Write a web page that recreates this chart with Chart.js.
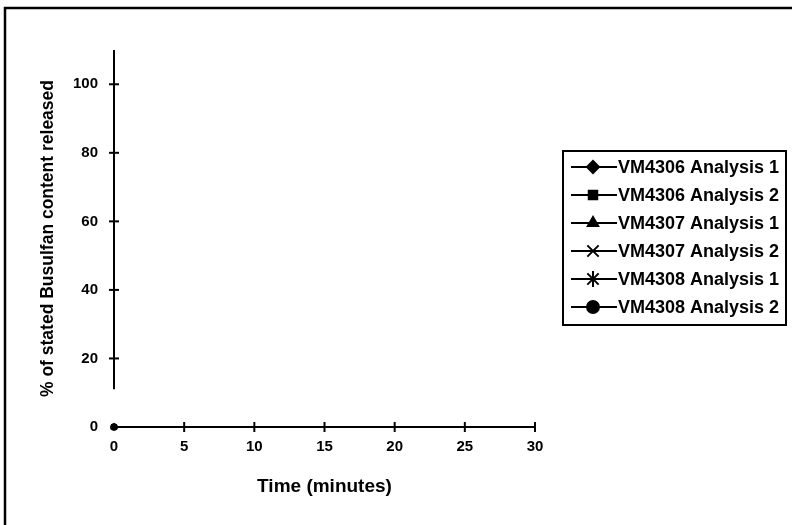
<!DOCTYPE html>
<html>
<head>
<meta charset="utf-8">
<script src="https://cdn.jsdelivr.net/npm/chart.js@4/dist/chart.umd.min.js"></script>
<style>
  html, body { margin: 0; padding: 0; background: #fff; }
  #wrap { width: 792px; height: 525px; }
</style>
</head>
<body>
<div id="wrap"><canvas id="c" width="792" height="525"></canvas></div>
<script>
// Dissolution profile data (time in minutes, % of stated content released)
const timeMinutes = [0];
const vm4306Analysis1 = [0];
const vm4306Analysis2 = [0];
const vm4307Analysis1 = [0];
const vm4307Analysis2 = [0];
const vm4308Analysis1 = [0];
const vm4308Analysis2 = [0];

const seriesLabels = [
  'VM4306 Analysis 1',
  'VM4306 Analysis 2',
  'VM4307 Analysis 1',
  'VM4307 Analysis 2',
  'VM4308 Analysis 1',
  'VM4308 Analysis 2'
];
const seriesValues = [
  vm4306Analysis1, vm4306Analysis2,
  vm4307Analysis1, vm4307Analysis2,
  vm4308Analysis1, vm4308Analysis2
];
const seriesMarkers = ['rectRot', 'rect', 'triangle', 'crossRot', 'star', 'circle'];

const xTickValues = [0, 5, 10, 15, 20, 25, 30];
const yTickValues = [0, 20, 40, 60, 80, 100];

const FONT = '"Liberation Sans", Arial, sans-serif';
const INK = '#000';

const datasets = seriesLabels.map((label, i) => ({
  label,
  data: timeMinutes.map((t, j) => ({ x: t, y: seriesValues[i][j] })),
  borderColor: INK,
  backgroundColor: INK,
  borderWidth: 2,
  pointStyle: seriesMarkers[i],
  pointRadius: 3,
  pointBorderWidth: 1.5,
  pointBackgroundColor: INK,
  pointBorderColor: INK,
  showLine: true,
  clip: false
}));

// Axis lines with crossing tick marks, the outer frame and the boxed legend
const decorations = {
  id: 'decorations',
  afterDraw(chart, args, opts) {
    const { ctx, scales: { x, y } } = chart;
    const y0 = y.getPixelForValue(0);
    ctx.save();
    ctx.strokeStyle = INK;
    ctx.fillStyle = INK;
    ctx.lineCap = 'butt';

    // outer frame (top and left edges)
    ctx.lineWidth = 2.5;
    ctx.beginPath();
    ctx.moveTo(5, 525);
    ctx.lineTo(5, 8);
    ctx.lineTo(792, 8);
    ctx.stroke();

    // y axis, broken just above the origin
    ctx.lineWidth = 2;
    ctx.beginPath();
    ctx.moveTo(x.left, y.getPixelForValue(y.max));
    ctx.lineTo(x.left, y.getPixelForValue(opts.yBreak));
    ctx.stroke();
    yTickValues.filter(v => v > 0).forEach(v => {
      const py = y.getPixelForValue(v);
      ctx.beginPath();
      ctx.moveTo(x.left - 5, py);
      ctx.lineTo(x.left + 5, py);
      ctx.stroke();
    });

    // x axis
    ctx.beginPath();
    ctx.moveTo(x.getPixelForValue(x.min), y0);
    ctx.lineTo(x.getPixelForValue(x.max), y0);
    ctx.stroke();
    xTickValues.filter(v => v > 0).forEach(v => {
      const px = x.getPixelForValue(v);
      ctx.beginPath();
      ctx.moveTo(px, y0 - 5);
      ctx.lineTo(px, y0 + 5);
      ctx.stroke();
    });

    // legend
    const L = opts.legend;
    ctx.lineWidth = 2;
    ctx.strokeRect(L.left, L.top, L.right - L.left, L.bottom - L.top);
    ctx.font = 'bold ' + L.fontSize + 'px ' + FONT;
    ctx.textBaseline = 'middle';
    ctx.textAlign = 'left';
    chart.data.datasets.forEach((ds, i) => {
      const ry = L.top + L.firstRow + i * L.rowGap;
      ctx.lineWidth = 2;
      ctx.beginPath();
      ctx.moveTo(L.left + 8, ry);
      ctx.lineTo(L.left + 54, ry);
      ctx.stroke();
      const strokeOnly = ds.pointStyle === 'crossRot' || ds.pointStyle === 'star';
      Chart.helpers.drawPoint(ctx, {
        pointStyle: ds.pointStyle,
        radius: strokeOnly ? 8 : 6,
        rotation: 0,
        borderWidth: strokeOnly ? 2 : 1.5
      }, L.left + 30, ry);
      ctx.fillText(ds.label, L.left + 55, ry + 1);
    });
    ctx.restore();
  }
};

new Chart(document.getElementById('c'), {
  type: 'line',
  data: { datasets },
  options: {
    responsive: false,
    devicePixelRatio: 1,
    animation: false,
    layout: { padding: { top: 50, left: 0, right: 257, bottom: 0 } },
    plugins: {
      legend: { display: false },
      tooltip: { enabled: false },
      decorations: {
        yBreak: 11,
        legend: { left: 563, top: 151, right: 786, bottom: 325, firstRow: 16, rowGap: 28, fontSize: 18 }
      }
    },
    scales: {
      x: {
        type: 'linear',
        min: 0,
        max: 30,
        afterBuildTicks: s => { s.ticks = xTickValues.map(v => ({ value: v })); },
        afterFit: s => { s.height = 98; },
        grid: { display: false, drawTicks: false, tickLength: 0 },
        border: { display: false },
        ticks: { color: INK, padding: 11, font: { family: FONT, size: 15, weight: 'bold' } },
        title: {
          display: true,
          text: 'Time (minutes)',
          color: INK,
          font: { family: FONT, size: 19, weight: 'bold' },
          padding: { top: 0, bottom: 27 }
        }
      },
      y: {
        type: 'linear',
        min: 0,
        max: 110,
        afterBuildTicks: s => { s.ticks = yTickValues.map(v => ({ value: v })); },
        afterFit: s => { s.width = 114; },
        grid: { display: false, drawTicks: false, tickLength: 0 },
        border: { display: false },
        ticks: { color: INK, padding: 16, font: { family: FONT, size: 15, weight: 'bold' } },
        title: {
          display: true,
          text: '% of stated Busulfan content released',
          color: INK,
          font: { family: FONT, size: 17.5, weight: 'bold' },
          padding: { top: 38, bottom: 0 }
        }
      }
    }
  },
  plugins: [decorations]
});
</script>
</body>
</html>
